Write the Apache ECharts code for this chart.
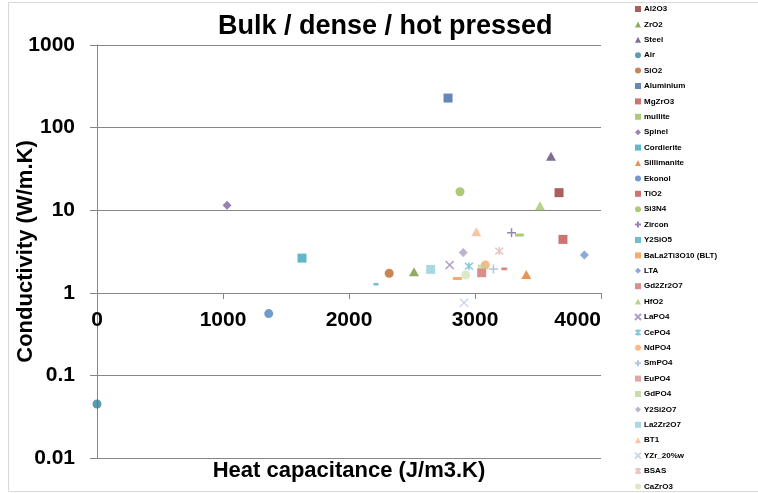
<!DOCTYPE html>
<html><head><meta charset="utf-8">
<script src="https://cdn.jsdelivr.net/npm/echarts@6/dist/echarts.min.js"></script>
<style>html,body{margin:0;padding:0;background:#fff}#c{width:758px;height:493px}</style>
</head><body><div id="c"></div>
<script>
const names = ['Al2O3','ZrO2','Steel','Air','SiO2','Aluminium','MgZrO3','mullite','Spinel','Cordierite','Sillimanite','Ekonol','TiO2','Si3N4','Zircon','Y2SiO5','BaLa2Ti3O10 (BLT)','LTA','Gd2Zr2O7','HfO2','LaPO4','CePO4','NdPO4','SmPO4','EuPO4','GdPO4','Y2Si2O7','La2Zr2O7','BT1','YZr_20%w','BSAS','CaZrO3'];
const heatCap = [3667, 2516, 3603, 0, 2319, 2786, 3230, 3352, 1032, 1627, 3407, 1363, 3698, 2881, 3290, 2214, 2860, 3868, 3053, 3516, 2799, 2952, 3082, 3146, 3238, 3058, 2907, 2648, 3010, 2913, 3193, 2926];
const conductivity = [16.3, 1.8, 45, 0.045, 1.72, 228, 1.95, 5.0, 11.5, 2.63, 1.67, 0.56, 4.43, 16.7, 5.33, 1.27, 1.49, 2.86, 1.75, 11.3, 2.17, 2.1, 2.17, 1.94, 1.94, 2.1, 3.08, 1.92, 5.48, 0.757, 3.2, 1.64];
const xTicks = [0, 1000, 2000, 3000, 4000];
const yTicks = [0.01, 0.1, 1, 10, 100, 1000];

// styles (per series)
const colors = ['#953735','#77933C','#604A7B','#31859C','#C0652A','#3E6AA6','#C0504D','#9BBB59','#8064A2','#3FA3BE','#E37A2C','#4F81BD','#C0504D','#9BBB59','#8064A2','#4BACC6','#F79646','#6E95CF','#CF7270','#A9C670','#9A84B8','#67BCD2','#F9A868','#9DB6DC','#DA8F8D','#BBD396','#AE9FC6','#93CDDD','#FAB78C','#BDCCE6','#E6B4B3','#D3E2B8'];
const shapes = ['sq','tri','tri','circ','circ','sq','sdash','ldash','dia','sq','tri','circ','sq','circ','plus','sdash','ldash','dia','sq','tri','x','ast','circ','plus','sdash','ldash','dia','sq','tri','x','ast','circ'];

const SYM = {
  sq:   {symbol:'rect', size:9, stroke:false},
  tri:  {symbol:'triangle', size:[10,9], stroke:false},
  circ: {symbol:'circle', size:9, stroke:false},
  dia:  {symbol:'diamond', size:9, stroke:false},
  sdash:{symbol:'rect', size:[5,2.5], stroke:false},
  ldash:{symbol:'rect', size:[9,3], stroke:false},
  plus: {symbol:'path://M5,0L5,10M0,5L10,5', size:9, stroke:true},
  x:    {symbol:'path://M0,0L10,10M10,0L0,10', size:8, stroke:true},
  ast:  {symbol:'path://M0,0L10,10M10,0L0,10M5,-1L5,11', size:8, stroke:true}
};

const FONT = "'Liberation Sans', Arial, sans-serif";

const series = names.map((n, i) => {
  const s = SYM[shapes[i]];
  return {
    name: n,
    type: 'scatter',
    symbol: s.symbol,
    symbolSize: s.size,
    itemStyle: s.stroke
      ? {color: colors[i], borderColor: colors[i], borderWidth: 1.5}
      : {color: colors[i]},
    data: [[heatCap[i], conductivity[i]]],
    z: 3 + i
  };
});

const chart = echarts.init(document.getElementById('c'), null, {renderer: 'canvas'});
chart.setOption({
  animation: false,
  backgroundColor: '#fff',
  title: {
    text: 'Bulk / dense / hot pressed',
    left: 213, top: 8,
    textStyle: {fontFamily: FONT, fontSize: 27, fontWeight: 'bold', color: '#000'}
  },
  graphic: [{
    type: 'rect', silent: true, z: -10,
    shape: {x: 8.5, y: 2.5, width: 760, height: 489},
    style: {fill: 'none', stroke: '#D9D9D9', lineWidth: 1}
  }],
  legend: {
    orient: 'vertical', left: 634, top: 0, bottom: 0, padding: [4, 0, 0, 0],
    itemWidth: 6, itemHeight: 6, itemGap: 5.4,
    textStyle: {fontFamily: FONT, fontSize: 8, fontWeight: 'bold', color: '#000', lineHeight: 10, padding: [0,0,0,-2]},
    data: names
  },
  grid: {left: 97, right: 157, top: 45, bottom: 35, containLabel: false, outerBoundsMode: 'none'},
  xAxis: {
    type: 'value', min: xTicks[0], max: xTicks[xTicks.length-1], interval: 1000,
    offset: -165,
    axisLine: {show: true, onZero: false, lineStyle: {color: '#868686', width: 1}},
    axisTick: {show: true, length: 6, lineStyle: {color: '#868686'}},
    splitLine: {show: false},
    axisLabel: {fontFamily: FONT, fontSize: 21, fontWeight: 'bold', color: '#000', margin: 17,
      alignMaxLabel: 'right', formatter: v => String(v)},
    name: 'Heat capacitance (J/m3.K)', nameLocation: 'middle', nameGap: 167, nameMoveOverlap: false,
    nameTextStyle: {fontFamily: FONT, fontSize: 22, fontWeight: 'bold', color: '#000'}
  },
  yAxis: {
    type: 'log', logBase: 10, min: yTicks[0], max: yTicks[yTicks.length-1], splitNumber: 5,
    axisLine: {show: true, lineStyle: {color: '#868686', width: 1}},
    axisTick: {show: true, length: 7, lineStyle: {color: '#868686'}},
    minorTick: {show: false},
    splitLine: {show: true, lineStyle: {color: '#868686', width: 1}},
    axisLabel: {fontFamily: FONT, fontSize: 21, fontWeight: 'bold', color: '#000', margin: 22,
      formatter: v => String(parseFloat(Number(v).toPrecision(3)))},
    name: 'Conductivity (W/m.K)', nameLocation: 'middle', nameGap: 60, nameMoveOverlap: false,
    nameTextStyle: {fontFamily: FONT, fontSize: 22, fontWeight: 'bold', color: '#000'}
  },
  series: series
});
</script>
</body></html>
